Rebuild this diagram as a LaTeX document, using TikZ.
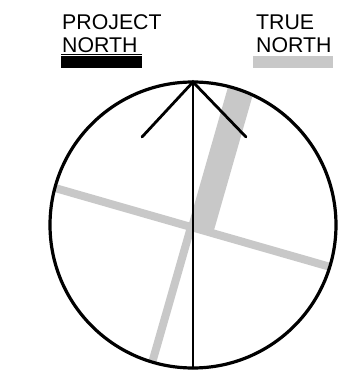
\documentclass[tikz,border=0pt]{standalone}
\usepackage{fontspec}
\setmainfont{Liberation Sans}
\usetikzlibrary{calc, positioning}
\definecolor{tngray}{RGB}{200,200,200}

\begin{document}
\begin{tikzpicture}[
    x=1pt, y=1pt,
    lbl/.style={font=\fontsize{21.3}{23}\selectfont, inner sep=0pt, anchor=base west},
    pn/.style={draw=black, line width=2.8pt, line cap=round},
    ring/.style={draw=black, line width=3.2pt},
    tn/.style={draw=tngray, line width=8pt}
]
\useasboundingbox (0,0) rectangle (345,370);

\def\cx{193}
\def\cy{145}
\def\rad{143}

\coordinate (c) at (\cx, \cy);
\coordinate (tc) at (191, 143);
\coordinate (tip) at (\cx, \cy+\rad);
\coordinate (foot) at (\cx, \cy-\rad);
\coordinate (hl) at (142, 233);
\coordinate (hr) at (246, 233);

% true north, clipped to the ring
\begin{scope}
  \clip (c) circle (\rad);
  \begin{scope}[shift={(tc)}, rotate=-16]
    \fill[tngray] (-3,0) rectangle (23,170);
    \draw[tn] (-170,0) -- (170,0);
    \draw[tn] (0,0) -- (0,-170);
  \end{scope}
\end{scope}

% project north
\draw[ring] (c) circle (\rad);
\draw[pn] (tip) -- (foot);
\draw[pn] (hl) -- (tip) -- (hr);

\node[lbl] (proj) at (62, 340) {PROJECT};
\node[lbl] (projn) at (62, 317) {NORTH};
\node[lbl] (true) at (256, 340) {TRUE};
\node[lbl] (truen) at (256, 317) {NORTH};

\draw[line width=1pt] (61, 315.6) -- (142, 315.6);
\fill[black] (61, 302.3) rectangle (142, 314);
\fill[tngray] (253, 302.3) rectangle (333, 314);

\end{tikzpicture}
\end{document}
